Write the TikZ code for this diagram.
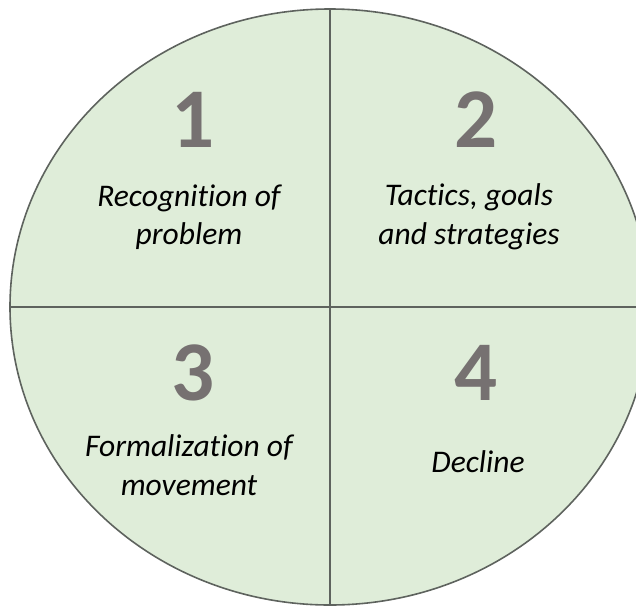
\documentclass[tikz,border=0pt]{standalone}
\usepackage{fontspec}
\setmainfont{Carlito}[Ligatures=NoCommon]
\definecolor{quadfill}{HTML}{DFEDD9}
\definecolor{quadline}{HTML}{5E635E}
\definecolor{numgray}{HTML}{767171}
\tikzset{
    stagenum/.style={text=numgray, font=\fontsize{85}{85}\selectfont\bfseries, inner sep=0pt},
    stagetext/.style={align=center, font=\fontsize{31.5}{38.5}\selectfont\itshape, inner sep=0pt}
}
\begin{document}
\begin{tikzpicture}[x=1pt, y=-1pt]
    \useasboundingbox (0,0) rectangle (636,608);
    \clip (0,0) rectangle (636,608);
    % circle and the two dividing lines
    \draw[quadline, line width=1.6pt, fill=quadfill] (330,307) ellipse [x radius=320, y radius=298];
    \coordinate (top) at (330,9);
    \coordinate (bottom) at (330,605);
    \coordinate (left) at (10,307);
    \coordinate (right) at (650,307);
    \draw[quadline, line width=1.6pt] (top) -- (bottom);
    \draw[quadline, line width=1.6pt] (left) -- (right);
    % numbers
    \foreach \n/\x/\y in {1/193/120, 2/476/120, 3/193/373, 4/476/373}
        {
            \node[stagenum] (num\n) at (\x,\y) {\n};
        }
    % stage texts
    \node[stagetext] (txt1) at (189,217) {Recognition of\\problem};
    \node[stagetext] (txt2) at (469,217) {Tactics, goals\\and strategies};
    \node[stagetext] (txt3) at (189,465) {Formalization of\\movement};
    \node[stagetext] (txt4) at (478,462) {Decline};
\end{tikzpicture}
\end{document}
